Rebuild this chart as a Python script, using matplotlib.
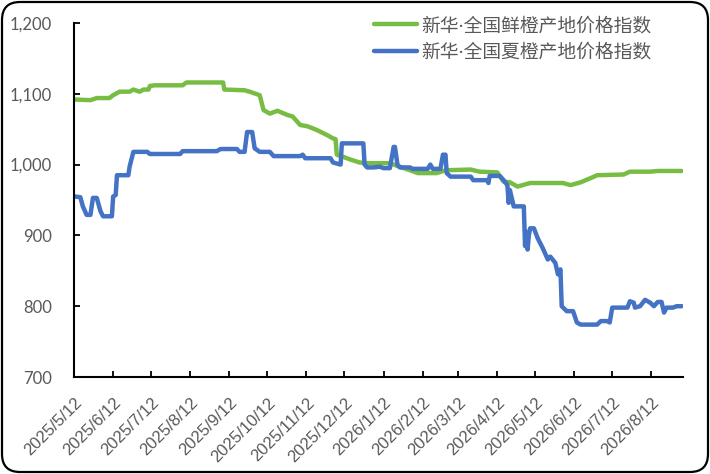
import matplotlib
matplotlib.use("Agg")
import matplotlib.pyplot as plt
from matplotlib.patches import FancyBboxPatch
from matplotlib.transforms import IdentityTransform
from matplotlib.ticker import FuncFormatter
import pandas as pd

# ---------------- data ----------------
series_names = ["新华·全国鲜橙产地价格指数", "新华·全国夏橙产地价格指数"]

green_dates = [
    "2025-05-12", "2025-05-25", "2025-05-30", "2025-06-09", "2025-06-12", "2025-06-17",
    "2025-06-25", "2025-06-28", "2025-07-03", "2025-07-06", "2025-07-10", "2025-07-11",
    "2025-07-15", "2025-08-06", "2025-08-09", "2025-09-07", "2025-09-08", "2025-09-24",
    "2025-09-28", "2025-10-06", "2025-10-09", "2025-10-14", "2025-10-20", "2025-10-28",
    "2025-11-01", "2025-11-07", "2025-11-13", "2025-11-20", "2025-11-28", "2025-12-03",
    "2025-12-05", "2025-12-06", "2025-12-11", "2025-12-17", "2025-12-24", "2025-12-30",
    "2026-01-17", "2026-01-23", "2026-02-02", "2026-02-08", "2026-02-23", "2026-03-02",
    "2026-03-22", "2026-03-29", "2026-04-12", "2026-04-17", "2026-04-22", "2026-04-28",
    "2026-05-08", "2026-06-03", "2026-06-09", "2026-06-17", "2026-06-25", "2026-06-30",
    "2026-07-21", "2026-07-26", "2026-08-11", "2026-08-17", "2026-09-05",
]
green_values = [
    1092, 1091, 1094, 1094, 1098, 1103,
    1103, 1106, 1103, 1106, 1106, 1111,
    1112, 1112, 1116, 1116, 1106, 1105,
    1103, 1098, 1077, 1072, 1076, 1070,
    1068, 1056, 1054, 1049, 1042, 1037,
    1036, 1014, 1011, 1007, 1003, 1002,
    1002, 998, 992, 988, 988, 992,
    993, 990, 989, 976, 975, 969,
    974, 974, 971, 975, 981, 985,
    986, 990, 990, 991, 991,
]

blue_dates = [
    "2025-05-12", "2025-05-17", "2025-05-19", "2025-05-22", "2025-05-25", "2025-05-27",
    "2025-05-30", "2025-06-02", "2025-06-04", "2025-06-11", "2025-06-12", "2025-06-14",
    "2025-06-15", "2025-06-24", "2025-06-25", "2025-06-28", "2025-07-09", "2025-07-11",
    "2025-08-04", "2025-08-06", "2025-09-02", "2025-09-05", "2025-09-18", "2025-09-20",
    "2025-09-24", "2025-09-26", "2025-09-30", "2025-10-02", "2025-10-06", "2025-10-14",
    "2025-10-17", "2025-11-07", "2025-11-09", "2025-11-11", "2025-12-01", "2025-12-03",
    "2025-12-09", "2025-12-10", "2025-12-27", "2025-12-28", "2025-12-30", "2026-01-04",
    "2026-01-09", "2026-01-12", "2026-01-17", "2026-01-20", "2026-01-21", "2026-01-23",
    "2026-01-25", "2026-02-02", "2026-02-04", "2026-02-16", "2026-02-18", "2026-02-20",
    "2026-02-26", "2026-02-28", "2026-03-02", "2026-03-03", "2026-03-06", "2026-03-22",
    "2026-03-24", "2026-04-04", "2026-04-05", "2026-04-06", "2026-04-14", "2026-04-17",
    "2026-04-20", "2026-04-21", "2026-04-22", "2026-04-25", "2026-05-03", "2026-05-04",
    "2026-05-05", "2026-05-06", "2026-05-07", "2026-05-08", "2026-05-11", "2026-05-14",
    "2026-05-18", "2026-05-22", "2026-05-24", "2026-05-28", "2026-05-30", "2026-06-01",
    "2026-06-02", "2026-06-06", "2026-06-11", "2026-06-14", "2026-06-17", "2026-06-30",
    "2026-07-03", "2026-07-08", "2026-07-10", "2026-07-12", "2026-07-24", "2026-07-26",
    "2026-07-29", "2026-07-30", "2026-08-03", "2026-08-07", "2026-08-11", "2026-08-14",
    "2026-08-17", "2026-08-20", "2026-08-22", "2026-08-24", "2026-08-29", "2026-09-01",
    "2026-09-05",
]
blue_values = [
    955, 954, 941, 929, 929, 953,
    953, 934, 927, 927, 955, 957,
    985, 985, 997, 1018, 1018, 1015,
    1015, 1019, 1019, 1022, 1022, 1018,
    1018, 1046, 1046, 1023, 1018, 1018,
    1012, 1012, 1014, 1009, 1009, 1003,
    1000, 1030, 1030, 1000, 996, 996,
    997, 995, 995, 1025, 1025, 1000,
    996, 996, 994, 994, 1000, 994,
    994, 1014, 1014, 988, 983, 983,
    978, 978, 974, 984, 984, 978,
    971, 946, 964, 941, 941, 885,
    905, 880, 900, 910, 910, 896,
    882, 866, 870, 861, 845, 852,
    800, 793, 793, 777, 774, 774,
    779, 779, 777, 798, 798, 807,
    805, 798, 800, 809, 805, 800,
    806, 806, 791, 798, 798, 800,
    800,
]

tick_dates = pd.date_range("2025-05-01", "2026-08-01", freq="MS") + pd.Timedelta(days=11)
x_start, x_end = "2025-05-12", "2026-09-06"
y_min, y_max, y_step = 700, 1200, 100

# ---------------- style ----------------
W, H = 710, 474
fig = plt.figure(figsize=(W / 100, H / 100), dpi=100)
ax = fig.add_axes([74 / W, 1 - 377 / H, (683 - 74) / W, (377 - 23) / H])

green = "#77BD43"
blue = "#4472C4"
text_gray = "#595959"

g_line, = ax.plot(pd.to_datetime(green_dates), green_values, color=green, lw=3.2,
                  solid_joinstyle="round", solid_capstyle="round")
b_line, = ax.plot(pd.to_datetime(blue_dates), blue_values, color=blue, lw=3.2,
                  solid_joinstyle="round", solid_capstyle="round")

ax.set_xlim(pd.Timestamp(x_start), pd.Timestamp(x_end))
ax.set_ylim(y_min, y_max)
ax.set_yticks(range(y_min, y_max + 1, y_step))
ax.yaxis.set_major_formatter(FuncFormatter(lambda v, p: f"{int(v):,}"))
ax.set_xticks(tick_dates)
ax.set_xticklabels([f"{d.year}/{d.month}/{d.day}" for d in tick_dates])

for s in ["top", "right"]:
    ax.spines[s].set_visible(False)
for s in ["left", "bottom"]:
    ax.spines[s].set_linewidth(1.5)
    ax.spines[s].set_color("black")

ax.tick_params(axis="both", direction="in", length=4.5, width=1.3, color="black")
ax.tick_params(axis="y", pad=16, labelsize=12, labelcolor=text_gray)
ax.tick_params(axis="x", pad=13, labelsize=12, labelcolor=text_gray)
for lab in ax.get_yticklabels():
    lab.set_fontfamily("Lato")
for lab in ax.get_xticklabels():
    lab.set_fontfamily("Liberation Sans")
    lab.set_rotation(45)
    lab.set_ha("right")
    lab.set_va("top")
    lab.set_rotation_mode("anchor")

leg = fig.legend([g_line, b_line], series_names, loc="upper left",
                 bbox_to_anchor=(374 / W, 1 - 17 / H), frameon=False,
                 prop={"family": ["Noto Sans", "Noto Sans CJK SC"], "size": 13.5},
                 handlelength=2.3, handletextpad=0.2, labelspacing=0.45,
                 borderpad=0, borderaxespad=0)
for t in leg.get_texts():
    t.set_color(text_gray)
for h in leg.get_lines():
    h.set_linewidth(3.2)

border = FancyBboxPatch((2, 2), W - 4, H - 4, boxstyle="round,pad=0,rounding_size=18",
                        transform=IdentityTransform(), fill=False, edgecolor="black",
                        linewidth=1.6)
fig.patches.append(border)

fig.savefig("out.png", dpi=100)
